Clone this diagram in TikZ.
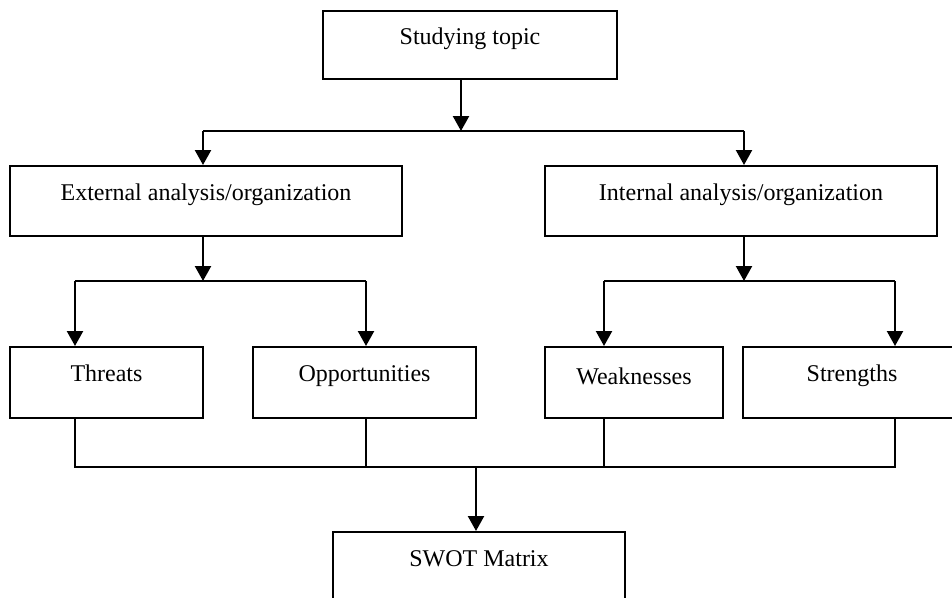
\documentclass[tikz,border=0pt]{standalone}
\usepackage{fontspec}
\setmainfont{Liberation Serif}
\usetikzlibrary{arrows.meta}
\tikzset{
  x=1pt, y=-1pt,
  boxnode/.style={draw, line width=2pt, inner sep=0pt, anchor=north,
    font=\fontsize{24}{28}\selectfont, text height=34pt, text depth=36pt},
  arr/.style={line width=2.3pt, -{Triangle[width=16pt,length=15pt]}},
  thickln/.style={line width=2.3pt},
  thinln/.style={line width=1.4pt}
}
\begin{document}
\begin{tikzpicture}
\useasboundingbox (0,0) rectangle (952,597);
\begin{scope}
\clip (0,0) rectangle (952,597);
% boxes
\node[boxnode, minimum width=294pt, text height=33pt, text depth=35pt] (st) at (470,10) {Studying topic};
\node[boxnode, minimum width=392pt] (ext) at (206,165) {External analysis/organization};
\node[boxnode, minimum width=392pt] (int) at (741,165) {Internal analysis/organization};
\node[boxnode, minimum width=193pt, text depth=37pt] (thr) at (106.5,346) {Threats};
\node[boxnode, minimum width=223pt, text depth=37pt] (opp) at (364.5,346) {Opportunities};
\node[boxnode, minimum width=178pt, text height=37pt, text depth=34pt] (wea) at (634,346) {Weaknesses};
\node[boxnode, minimum width=218pt, text depth=37pt] (str) at (852,346) {Strengths};
\node[boxnode, minimum width=292pt] (swot) at (479,531) {SWOT Matrix};
% junction coordinates
\coordinate (j1) at (461,131);
\coordinate (j1l) at (203,131);
\coordinate (j1r) at (744,131);
\coordinate (j2) at (203,281);
\coordinate (j2l) at (75,281);
\coordinate (j2r) at (366,281);
\coordinate (j3) at (744,281);
\coordinate (j3l) at (604,281);
\coordinate (j3r) at (895,281);
\coordinate (b1) at (75,467);
\coordinate (b2) at (895,467);
\coordinate (bm) at (476,467);
% top level
\draw[arr] (st.south -| j1) -- (j1);
\draw[thickln] (j1l) -- (j1r);
\draw[arr] (j1l) -- (j1l |- ext.north);
\draw[arr] (j1r) -- (j1r |- int.north);
% external branch
\draw[arr] (ext.south -| j2) -- (j2);
\draw[thickln] (j2l) -- (j2r);
\draw[arr] (j2l) -- (j2l |- thr.north);
\draw[arr] (j2r) -- (j2r |- opp.north);
% internal branch
\draw[arr] (int.south -| j3) -- (j3);
\draw[thickln] (j3l) -- (j3r);
\draw[arr] (j3l) -- (j3l |- wea.north);
\draw[arr] (j3r) -- (j3r |- str.north);
% bottom collection
\draw[thinln] (thr.south -| b1) -- (b1) -- (b2) -- (str.south -| b2);
\draw[thinln] (opp.south -| j2r) -- (j2r |- b1);
\draw[thinln] (wea.south -| j3l) -- (j3l |- b1);
\draw[arr] (bm) -- (bm |- swot.north);
\end{scope}
\end{tikzpicture}
\end{document}
